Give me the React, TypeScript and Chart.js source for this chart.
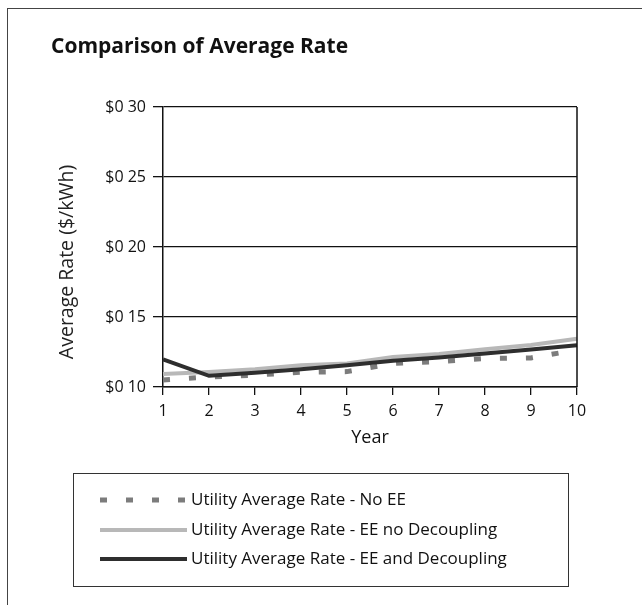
import React, { useEffect, useRef } from 'react';
import { Chart, registerables } from 'chart.js';

Chart.register(...registerables);

const CHART_TITLE = 'Comparison of Average Rate';
const X_TITLE = 'Year';
const Y_TITLE = 'Average Rate ($/kWh)';

const years = ['1', '2', '3', '4', '5', '6', '7', '8', '9', '10'];

const seriesLabels = [
  'Utility Average Rate - No EE',
  'Utility Average Rate - EE no Decoupling',
  'Utility Average Rate - EE and Decoupling',
];

const noEE = [0.105, 0.1072, 0.1085, 0.1105, 0.111, 0.1168, 0.1182, 0.1203, 0.1208, 0.1265];
const eeNoDecoupling = [0.1092, 0.1108, 0.1126, 0.1155, 0.1168, 0.1215, 0.1236, 0.127, 0.13, 0.1345];
const eeDecoupling = [0.1198, 0.108, 0.1102, 0.1126, 0.1155, 0.1188, 0.1211, 0.124, 0.1268, 0.1298];

const Y_MIN = 0.1;
const Y_MAX = 0.3;
const Y_STEP = 0.05;

const FONT = '"Open Sans", "Noto Sans", "DejaVu Sans", sans-serif';

const decorPlugin = {
  id: 'decor',
  afterDraw(chart: any) {
    const ctx = chart.ctx as CanvasRenderingContext2D;
    const area = chart.chartArea;
    ctx.save();

    // outer frame
    ctx.strokeStyle = '#444';
    ctx.lineWidth = 1;
    ctx.strokeRect(7.5, 8.5, 900, 900);

    // title
    ctx.fillStyle = '#111';
    ctx.font = `bold 21px ${FONT}`;
    ctx.textAlign = 'left';
    ctx.textBaseline = 'middle';
    ctx.fillText(CHART_TITLE, 51, 47);

    // right border of plot
    ctx.strokeStyle = '#111';
    ctx.lineWidth = 1.5;
    ctx.beginPath();
    ctx.moveTo(area.right, area.top);
    ctx.lineTo(area.right, area.bottom);
    ctx.stroke();

    // y axis title
    ctx.save();
    ctx.translate(67, 262);
    ctx.rotate(-Math.PI / 2);
    ctx.font = `19.5px ${FONT}`;
    ctx.fillStyle = '#222';
    ctx.textAlign = 'center';
    ctx.textBaseline = 'middle';
    ctx.fillText(Y_TITLE, 0, 0);
    ctx.restore();

    // legend
    ctx.strokeStyle = '#333';
    ctx.lineWidth = 1;
    ctx.strokeRect(73.5, 473.5, 495, 113);
    const rows = [500, 530, 559];
    chart.data.datasets.forEach((ds: any, i: number) => {
      const y = rows[i];
      ctx.save();
      ctx.strokeStyle = ds.borderColor;
      ctx.lineWidth = ds.borderWidth;
      ctx.setLineDash(ds.borderDash || []);
      ctx.lineCap = 'butt';
      ctx.beginPath();
      ctx.moveTo(100, y);
      ctx.lineTo(187, y);
      ctx.stroke();
      ctx.restore();
      ctx.fillStyle = '#111';
      ctx.font = `17px ${FONT}`;
      ctx.textAlign = 'left';
      ctx.textBaseline = 'middle';
      ctx.fillText(ds.label, 191, y);
    });

    ctx.restore();
  },
};

export default function App() {
  const canvasRef = useRef<HTMLCanvasElement | null>(null);

  useEffect(() => {
    document.body.style.margin = '0';
    const canvas = canvasRef.current;
    if (!canvas) return;
    const chart = new Chart(canvas, {
      type: 'line',
      data: {
        labels: years,
        datasets: [
          {
            label: seriesLabels[0],
            data: noEE,
            borderColor: '#7c7c7c',
            borderWidth: 5,
            borderDash: [7, 19],
            pointRadius: 0,
            tension: 0,
            fill: false,
            order: 3,
          },
          {
            label: seriesLabels[1],
            data: eeNoDecoupling,
            borderColor: '#b8b8b8',
            borderWidth: 4,
            pointRadius: 0,
            tension: 0,
            fill: false,
            order: 2,
          },
          {
            label: seriesLabels[2],
            data: eeDecoupling,
            borderColor: '#2e2e2e',
            borderWidth: 4,
            pointRadius: 0,
            tension: 0,
            fill: false,
            order: 1,
          },
        ],
      },
      options: {
        responsive: false,
        animation: false,
        devicePixelRatio: 1,
        layout: { padding: { top: 107, right: 65, bottom: 148, left: 0 } },
        plugins: {
          legend: { display: false },
          title: { display: false },
          tooltip: { enabled: false },
        },
        scales: {
          x: {
            type: 'category',
            offset: false,
            grid: {
              display: true,
              drawOnChartArea: false,
              drawTicks: true,
              tickLength: 8,
              color: '#111',
              lineWidth: 1.3,
            },
            border: { display: true, color: '#111', width: 1.5 },
            ticks: {
              color: '#111',
              padding: 7,
              maxRotation: 0,
              autoSkip: false,
              font: { family: FONT, size: 16 },
            },
            title: {
              display: true,
              text: X_TITLE,
              color: '#111',
              font: { family: FONT, size: 18 },
              padding: { top: 0, bottom: 8 },
            },
            afterFit: (s: any) => {
              s.height = 70;
            },
          },
          y: {
            min: Y_MIN,
            max: Y_MAX,
            grid: {
              color: '#111',
              lineWidth: 1.3,
              tickLength: 10,
              drawTicks: true,
            },
            border: { display: true, color: '#111', width: 1.5 },
            ticks: {
              stepSize: Y_STEP,
              color: '#111',
              padding: 7,
              font: { family: FONT, size: 16 },
              callback: (v: any) => '$0 ' + String(Math.round(Number(v) * 100)).padStart(2, '0'),
            },
            afterFit: (s: any) => {
              s.width = 163;
            },
          },
        },
      },
      plugins: [decorPlugin],
    });
    return () => chart.destroy();
  }, []);

  return (
    <div style={{ width: 642, height: 605, position: 'relative', background: '#fff' }}>
      <canvas ref={canvasRef} width={642} height={605} style={{ display: 'block' }} />
    </div>
  );
}
